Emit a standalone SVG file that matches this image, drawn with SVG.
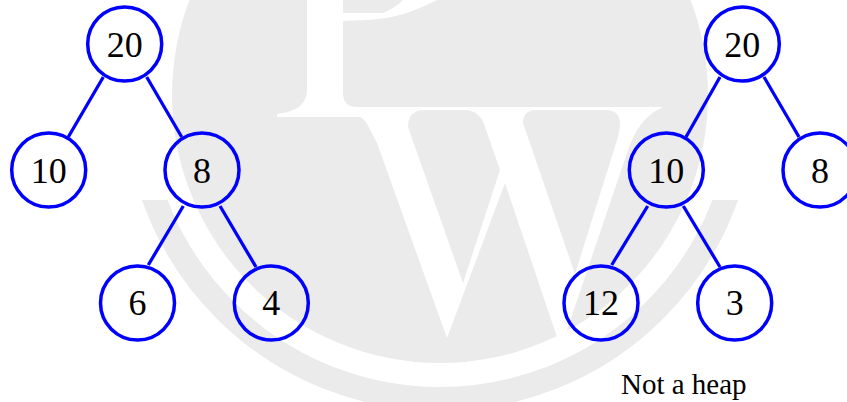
<svg xmlns="http://www.w3.org/2000/svg" width="847" height="402" viewBox="0 0 847 402">
<style>
.wm{fill:#ebebeb}
.gap{fill:#fff}
.node circle{fill:none;stroke:#0000ff;stroke-width:3.5}
.node text{font-family:"Liberation Serif","Times New Roman",serif;font-size:36px;fill:#000;text-anchor:middle}
#connectors line{stroke:#0000ff;stroke-width:3.3}
.label{font-family:"Liberation Serif","Times New Roman",serif;font-size:29px;fill:#000}
</style>
<defs><clipPath id="ringClip"><rect x="0" y="200" width="847" height="202"/></clipPath></defs>
<rect width="847" height="402" fill="#fff"/>
<g id="watermark">
<circle cx="440" cy="95" r="304" fill="none" stroke="#ebebeb" stroke-width="24" clip-path="url(#ringClip)"/>
<circle class="wm" cx="440" cy="95" r="268"/>
<path class="gap" d="M307,0 L343,0 L343,93 Q343,107 357,107 L663,107 C645,115 635,130 628,150 L566,333 L566,345 L557,345 L557,337 L505,183 L447,338 L377,143 C368,125 365,119 360,117 L277,117 L277,114 C295,112 307,105 307,90 Z"/>
<path class="gap" d="M343,13 L383,13 Q395,8 403,0 L437,0 Q410,14 387,18 Q365,21 343,21 Z"/>
<path class="wm" d="M408,127 Q408,110 425,110 L465,110 Q478,110 484,124 L500,170 L463,283 Z"/>
<path class="wm" d="M523,123 Q523,110 537,110 L606,110 Q620,110 620,124 Q620,130 617,140 L575,274 Z"/>
</g>
<g id="connectors">
<line x1="103.3" y1="77" x2="68.3" y2="137"/>
<line x1="146.7" y1="77" x2="181.7" y2="137"/>
<line x1="183.3" y1="206" x2="148.3" y2="265"/>
<line x1="220" y1="206" x2="256" y2="267"/>
<line x1="720" y1="77" x2="686" y2="137"/>
<line x1="764" y1="77" x2="799" y2="137"/>
<line x1="647.7" y1="206" x2="611.7" y2="265"/>
<line x1="683.3" y1="206" x2="720" y2="267"/>
</g>
<g id="n20a" class="node"><circle cx="124.7" cy="44" r="37"/><text x="124.7" y="57">20</text></g>
<g id="n10a" class="node"><circle cx="48.7" cy="170" r="37"/><text x="48.7" y="182.5">10</text></g>
<g id="n8a" class="node"><circle cx="202" cy="170" r="37"/><text x="202" y="182.5">8</text></g>
<g id="n6a" class="node"><circle cx="137.5" cy="303" r="37"/><text x="137.5" y="315">6</text></g>
<g id="n4a" class="node"><circle cx="271.3" cy="303" r="37"/><text x="271.3" y="315">4</text></g>
<g id="n20b" class="node"><circle cx="742.3" cy="44" r="37"/><text x="742.3" y="57">20</text></g>
<g id="n10b" class="node"><circle cx="666.3" cy="170" r="37"/><text x="666.3" y="182.5">10</text></g>
<g id="n8b" class="node"><circle cx="820" cy="170" r="37"/><text x="820" y="182.5">8</text></g>
<g id="n12b" class="node"><circle cx="601" cy="303" r="37"/><text x="601" y="315">12</text></g>
<g id="n3b" class="node"><circle cx="734.7" cy="303" r="37"/><text x="734.7" y="315">3</text></g>
<text class="label" x="621" y="394">Not a heap</text>
</svg>
